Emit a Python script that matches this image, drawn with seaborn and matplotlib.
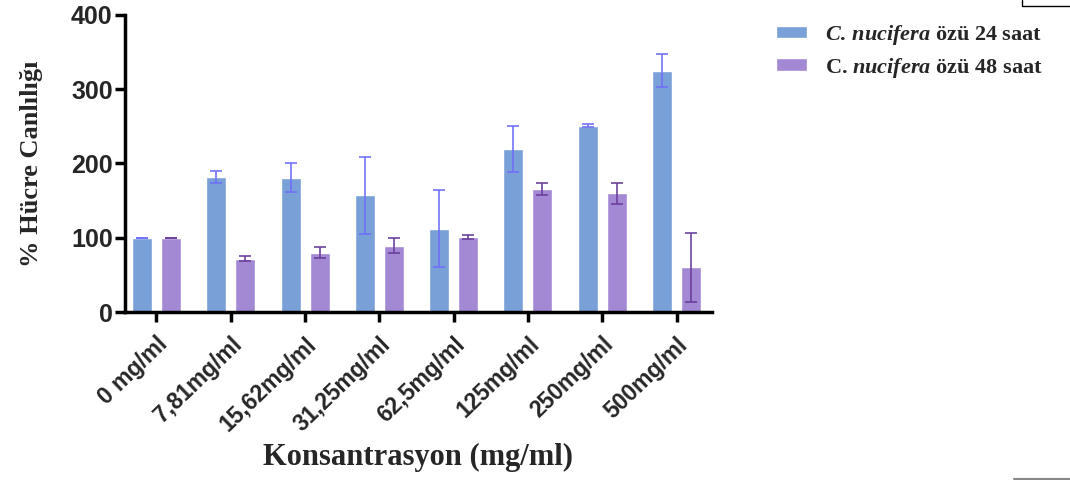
import numpy as np
import pandas as pd
import seaborn as sns
import matplotlib.pyplot as plt
from matplotlib.lines import Line2D

concentrations = ['0 mg/ml', '7,81mg/ml', '15,62mg/ml', '31,25mg/ml',
                  '62,5mg/ml', '125mg/ml', '250mg/ml', '500mg/ml']
mean_24h = [100, 182, 181, 157, 112, 219, 251, 325]
err_24h = [0, 8, 20, 52, 52, 31, 2, 22]
mean_48h = [100, 72, 80, 89, 101, 165, 160, 60]
err_48h = [0, 4, 7, 10, 3, 8, 14, 46]
series_names = [r'$\mathit{C.\,nucifera}$ özü 24 saat',
                r'C. $\mathit{nucifera}$ özü 48 saat']

sns.set_style('ticks')
plt.rcParams['mathtext.fontset'] = 'custom'
plt.rcParams['mathtext.it'] = 'Liberation Serif:italic:bold'
plt.rcParams['mathtext.rm'] = 'Liberation Serif:bold'

df = pd.DataFrame({
    'conc': concentrations * 2,
    'value': mean_24h + mean_48h,
    'series': [series_names[0]] * len(concentrations) + [series_names[1]] * len(concentrations),
})

bar_colors = ['#7aa0d8', '#a388d4']
err_colors = ['#7070f8', '#6a3f9c']

fig = plt.figure(figsize=(10.7, 4.8), dpi=100)
ax = fig.add_axes([0.117, 0.35, 0.548, 0.619])

sns.barplot(data=df, x='conc', y='value', hue='series', palette=bar_colors,
            saturation=1, width=0.78, gap=0.31, errorbar=None, ax=ax, legend=True)

# error bars drawn on top of the bars seaborn placed
for i, (errs, means) in enumerate([(err_24h, mean_24h), (err_48h, mean_48h)]):
    cont = ax.containers[i]
    xs = [p.get_x() + p.get_width() / 2 for p in cont.patches]
    ax.errorbar(xs, means, yerr=errs, fmt='none', ecolor=err_colors[i],
                elinewidth=1.3, capsize=4, capthick=1.3, alpha=0.9, zorder=3)

ax.set_ylim(0, 400)
ax.set_yticks([0, 100, 200, 300, 400])
ax.set_xlim(-0.42, 7.47)
sns.despine(ax=ax)
for s in ['left', 'bottom']:
    ax.spines[s].set_linewidth(2.5)
    ax.spines[s].set_color('black')
ax.tick_params(axis='both', width=2.5, length=7, color='black')
ax.tick_params(axis='y', labelsize=18, pad=2)
ax.tick_params(axis='x', labelsize=16.5, pad=8)
for lab in ax.get_yticklabels():
    lab.set_fontfamily('Liberation Sans')
    lab.set_fontweight('bold')
for lab in ax.get_xticklabels():
    lab.set_fontfamily('Liberation Sans')
    lab.set_fontweight('bold')
    lab.set_rotation(44)
    lab.set_ha('right')
    lab.set_rotation_mode('anchor')

ax.set_ylabel('% Hücre Canlılığı', fontsize=19, fontfamily='Liberation Serif',
              fontweight='bold', labelpad=20)
ax.set_xlabel('Konsantrasyon (mg/ml)', fontsize=22, fontfamily='Liberation Serif',
              fontweight='bold', labelpad=5)

leg = ax.legend(loc='upper left', bbox_to_anchor=(0.711, 0.985), bbox_transform=fig.transFigure,
                frameon=False, fontsize=16, handlelength=1.4, handleheight=0.5,
                labelspacing=0.4, handletextpad=0.8, borderpad=0.2)
for t in leg.get_texts():
    t.set_fontfamily('Liberation Serif')
    t.set_fontweight('bold')

# stray frame fragments in the corners of the original image
fig.add_artist(Line2D([1022, 1022, 1070], [480, 474, 474], transform=None, color='black', lw=1))
fig.add_artist(Line2D([1014, 1070], [1.5, 1.5], transform=None, color='#888888', lw=1.5))

fig.savefig('out.png', dpi=100)
